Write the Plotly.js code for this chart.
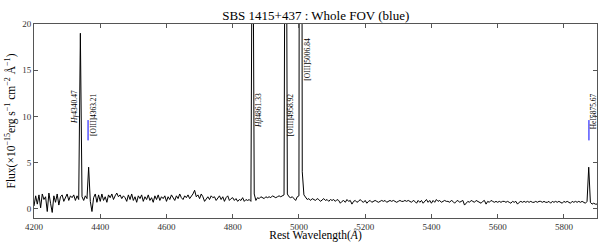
<!DOCTYPE html>
<html><head><meta charset="utf-8">
<script src="https://cdn.plot.ly/plotly-3.0.1.min.js"></script>
<style>body{margin:0;padding:0;background:#fff}#chart{width:598px;height:242px}</style>
</head><body><div id="chart"></div>
<script>
// Spectrum sampled every 5 Å starting at 4200 Å
const waveStart = 4200;
const waveStep = 5;
const flux = [
 0.3,1.4,0.5,1.5,0.1,1.6,1.0,1.3,-0.3,1.7,
 0.6,-0.4,1.4,0.7,1.6,0.4,1.3,1.5,0.8,1.3,
 1.6,0.9,1.4,1.2,1.5,0.9,1.4,1.0,19.0,1.3,
 0.9,1.4,1.1,4.5,0.8,-0.3,1.2,1.6,0.7,1.5,
 0.8,1.6,0.9,1.3,0.7,1.5,1.2,1.6,1.0,1.4,
 1.7,1.3,1.5,1.1,1.4,1.2,0.8,1.5,1.0,1.6,
 0.9,1.3,0.7,1.4,1.1,1.5,0.8,1.3,1.0,1.5,
 0.9,1.2,0.7,1.4,1.0,1.5,0.9,1.3,1.1,1.4,
 0.8,1.3,1.0,1.5,1.2,0.9,1.4,1.1,1.6,1.2,
 1.0,1.4,1.2,1.5,1.1,1.3,1.6,2.0,1.3,1.5,
 1.1,1.6,1.3,0.8,1.1,1.3,1.0,1.4,1.2,1.3,
 0.9,1.2,1.4,1.0,1.3,0.8,1.2,1.4,0.9,1.1,
 1.2,0.9,1.1,0.8,1.0,0.9,1.2,0.8,1.0,0.9,
 1.0,0.8,42,1.6,0.9,1.2,1.1,1.3,1.2,1.1,
 1.3,1.2,1.3,1.2,1.4,1.3,1.2,1.3,1.4,1.3,
 1.4,1.5,60,1.6,1.3,1.2,1.3,1.1,0.9,1.3,
 1.4,150,4.0,1.5,1.2,1.0,1.1,0.9,1.1,1.0,
 0.9,1.1,1.0,0.8,1.0,1.1,0.9,1.0,0.8,1.0,
 0.9,1.0,0.8,1.0,0.9,0.6,0.8,0.9,0.7,1.0,
 0.8,0.9,0.5,0.8,0.9,0.7,0.8,1.0,0.8,0.7,
 0.9,0.6,0.8,0.9,0.7,0.8,0.9,0.8,0.7,0.8,
 0.9,0.8,0.9,0.7,0.8,0.9,0.8,0.9,0.8,0.7,
 0.8,0.9,0.8,0.8,0.9,0.8,0.9,0.8,0.7,0.9,
 0.8,0.6,0.9,0.7,0.9,0.6,0.8,1.0,0.7,0.9,
 0.6,0.9,0.7,1.0,0.8,0.9,0.7,0.8,0.9,0.8,
 0.8,0.7,0.9,0.8,0.6,0.8,0.9,0.7,0.8,0.9,
 0.4,0.6,0.8,0.7,0.9,0.8,0.7,0.9,0.8,0.7,
 0.6,0.8,0.9,0.5,0.8,0.7,0.9,0.8,0.7,0.8,
 0.7,0.8,0.7,0.8,0.8,0.7,0.8,0.7,0.6,0.8,
 0.7,0.8,0.5,0.7,0.8,0.7,0.8,0.7,0.8,0.7,
 0.8,0.7,0.7,0.8,0.7,0.8,0.8,0.7,0.8,0.7,
 0.7,0.8,0.6,0.8,0.7,0.8,0.7,0.8,0.7,0.6,
 0.8,0.7,0.8,0.7,0.6,0.8,0.7,0.8,0.7,0.8,
 0.7,0.8,0.7,0.6,0.8,4.5,0.7,0.5,0.6,0.5,
 0.5
];
// Line identifications
const lineWaves = [4340.47, 4363.21, 4861.33, 4958.92, 5006.84, 5875.67];
const lineLabels = ['<i>Hγ</i>4340.47', '[OIII]4363.21', '<i>Hβ</i>4861.33', '[OIII]4958.92', '[OIII]5006.84', 'HeI5875.67'];
const labelTops = [12.9, 12.6, 12.6, 12.6, 18.6, 12.6];
const labelShift = [-6, 6, 6, 6, 6, 4];
// Blue marker segments
const markWaves = [4363.21, 5875.67];
const markLow = 7.4, markHigh = 9.6;

const serif = 'Liberation Serif, Times New Roman, serif';
const traces = [{
  type: 'scatter', mode: 'lines', x0: waveStart, dx: waveStep, y: flux,
  line: {color: '#000', width: 1}, hoverinfo: 'skip', showlegend: false
}];
markWaves.forEach(w => traces.push({
  type: 'scatter', mode: 'lines', x: [w, w], y: [markLow, markHigh],
  line: {color: '#0000ff', width: 1}, showlegend: false, hoverinfo: 'skip'
}));

const annotations = lineWaves.map((w, i) => ({
  x: w, y: labelTops[i], xref: 'x', yref: 'y', text: lineLabels[i],
  textangle: -90, showarrow: false, xanchor: 'center', yanchor: 'top',
  xshift: labelShift[i], borderpad: 0, font: {family: serif, size: 7.5, color: '#000'}
}));

const axisCommon = {
  showline: true, mirror: 'ticks', linecolor: '#555', linewidth: 1,
  ticks: 'inside', ticklen: 4, tickcolor: '#555', showgrid: false, zeroline: false,
  tickfont: {family: serif, size: 9, color: '#333'}
};
const layout = {
  width: 598, height: 242,
  margin: {l: 34, r: 1, t: 24, b: 24, pad: 0},
  paper_bgcolor: '#fff', plot_bgcolor: '#fff',
  title: {text: 'SBS 1415+437 : Whole FOV (blue)', font: {family: serif, size: 13, color: '#000'},
          x: 0.528, xanchor: 'center', y: 0.935, yanchor: 'middle'},
  xaxis: Object.assign({}, axisCommon, {
    range: [4200, 5900], tickvals: [4200,4400,4600,4800,5000,5200,5400,5600,5800],
    title: {text: 'Rest Wavelength(<i>Å</i>)', font: {family: serif, size: 11.5, color: '#000'}, standoff: 0}
  }),
  yaxis: Object.assign({}, axisCommon, {
    range: [-1, 20], tickvals: [0,5,10,15,20],
    title: {text: 'Flux(×10<sup>−15</sup>erg s<sup>−1</sup> cm<sup>−2</sup> Å<sup>−1</sup>)', font: {family: serif, size: 11.5, color: '#000'}, standoff: 4}
  }),
  annotations: annotations
};
Plotly.newPlot('chart', traces, layout, {staticPlot: true, displayModeBar: false});
</script></body></html>
